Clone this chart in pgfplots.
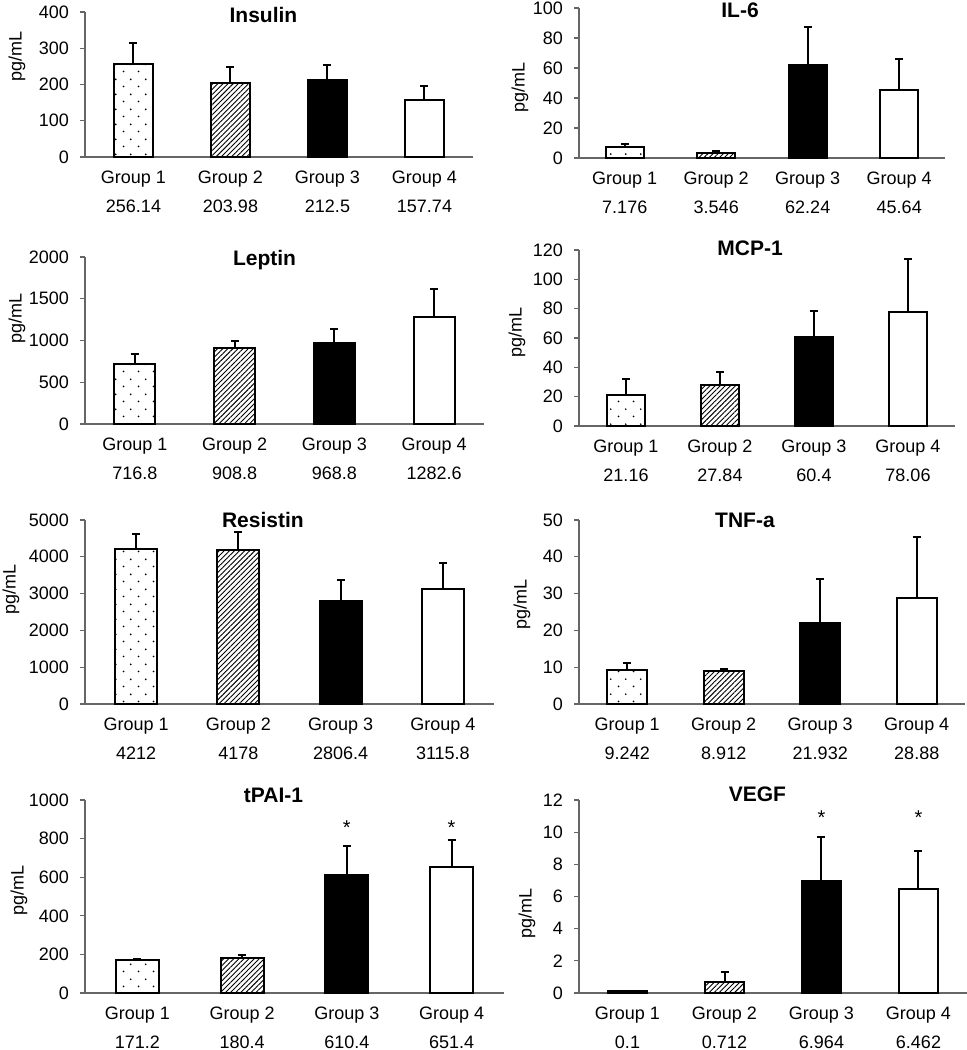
\documentclass[border=0pt]{standalone}
\usepackage{fontspec}
\setmainfont{Liberation Sans}
\usepackage{pgfplots}
\pgfplotsset{compat=1.18}
\usetikzlibrary{patterns.meta}

% sparse staggered dots for group 1
\tikzdeclarepattern{
  name=sparsedots,
  type=uncolored,
  bottom left={(0pt,0pt)},
  top right={(7.5pt,7.5pt)},
  tile size={(7.5pt,7.5pt)},
  code={
    \fill (1.875pt,1.875pt) circle (0.5pt);
    \fill (5.625pt,5.625pt) circle (0.5pt);
  }
}

\pgfplotsset{
  panel/.style={
    scale only axis,
    ybar, bar width=0.41, bar shift=0pt,
    xmin=0.5, xmax=4.5, ymin=0,
    axis x line*=bottom, axis y line*=left,
    axis line style={black!60, line width=0.6pt},
    xtick={1,2,3,4}, xtick style={draw=none},
    ytick style={black!60, line width=0.6pt},
    tick align=outside, major tick length=2.5pt,
    tick label style={font=\fontsize{9}{10}\selectfont},
    yticklabel style={xshift=-2pt},
    xticklabel style={align=center, font=\fontsize{9}{14.5}\selectfont, yshift=-1pt},
    /pgf/number format/assume math mode=true,
    /pgf/number format/1000 sep={},
    scaled y ticks=false,
    ylabel={pg/mL},
    every axis y label/.style={rotate=90, anchor=center},
    label style={font=\fontsize{9}{10}\selectfont},
    every axis title/.style={anchor=center, font=\bfseries\fontsize{10.5}{12}\selectfont},
    error bars/y dir=plus, error bars/y explicit,
    error bars/error bar style={black, line width=1pt},
    error bars/error mark options={rotate=90, black, line width=1pt, mark size=2pt},
  },
  g1/.style={draw=black, line width=1pt, bar shift=0pt, pattern=sparsedots, pattern color=black},
  g2/.style={draw=black, line width=1pt, bar shift=0pt, pattern={Lines[angle=45,distance=1.8pt,line width=0.45pt]}, pattern color=black},
  g3/.style={draw=black, line width=1pt, bar shift=0pt, fill=black},
  g4/.style={draw=black, line width=1pt, bar shift=0pt, fill=white},
}

\begin{document}
\begin{tikzpicture}
\path[use as bounding box] (0,0) rectangle (483.5pt,-525pt);

% ---------- left column ----------
\begin{axis}[panel, at={(42.5pt,-78.5pt)}, anchor=south west,
  width=194pt, height=72.5pt, ymax=400, ytick distance=100,
  ylabel style={at={([xshift=-34pt]axis description cs:0,0.69)}},
  title={Insulin}, title style={at={([yshift=-1.5pt]axis description cs:0.46,1)}},
  xticklabels={{Group 1\\256.14},{Group 2\\203.98},{Group 3\\212.5},{Group 4\\157.74}}]
\addplot[g1] coordinates {(1,256.14) +- (0,57)};
\addplot[g2] coordinates {(2,203.98) +- (0,43)};
\addplot[g3] coordinates {(3,212.5) +- (0,42)};
\addplot[g4] coordinates {(4,157.74) +- (0,37)};
\end{axis}

\begin{axis}[panel, at={(42.5pt,-212pt)}, anchor=south west,
  width=199.5pt, height=83.5pt, ymax=2000, ytick distance=500,
  ylabel style={at={([xshift=-34pt]axis description cs:0,0.63)}},
  title={Leptin}, title style={at={([yshift=-1.5pt]axis description cs:0.45,1)}},
  xticklabels={{Group 1\\716.8},{Group 2\\908.8},{Group 3\\968.8},{Group 4\\1282.6}}]
\addplot[g1] coordinates {(1,716.8) +- (0,123)};
\addplot[g2] coordinates {(2,908.8) +- (0,84)};
\addplot[g3] coordinates {(3,968.8) +- (0,164)};
\addplot[g4] coordinates {(4,1282.6) +- (0,332)};
\end{axis}

\begin{axis}[panel, at={(42.5pt,-352pt)}, anchor=south west,
  width=204.5pt, height=92pt, ymax=5000, ytick distance=1000,
  ylabel style={at={([xshift=-37pt]axis description cs:0,0.62)}},
  title={Resistin}, title style={at={([yshift=0pt]axis description cs:0.435,1)}},
  xticklabels={{Group 1\\4212},{Group 2\\4178},{Group 3\\2806.4},{Group 4\\3115.8}}]
\addplot[g1] coordinates {(1,4212) +- (0,400)};
\addplot[g2] coordinates {(2,4178) +- (0,488)};
\addplot[g3] coordinates {(3,2806.4) +- (0,563)};
\addplot[g4] coordinates {(4,3115.8) +- (0,724)};
\end{axis}

\begin{axis}[panel, at={(42.5pt,-496.5pt)}, anchor=south west,
  width=209.5pt, height=96.5pt, ymax=1000, ytick distance=200,
  ylabel style={at={([xshift=-33pt]axis description cs:0,0.53)}},
  title={tPAI-1}, title style={at={([yshift=2.5pt]axis description cs:0.45,1)}},
  xticklabel style={yshift=0pt},
  xticklabels={{Group 1\\171.2},{Group 2\\180.4},{Group 3\\610.4},{Group 4\\651.4}}]
\addplot[g1] coordinates {(1,171.2) +- (0,5)};
\addplot[g2] coordinates {(2,180.4) +- (0,17)};
\addplot[g3] coordinates {(3,610.4) +- (0,151)};
\addplot[g4] coordinates {(4,651.4) +- (0,141)};
\node[font=\fontsize{10}{11}\selectfont] at (axis cs:3,855) {*};
\node[font=\fontsize{10}{11}\selectfont] at (axis cs:4,855) {*};
\end{axis}

% ---------- right column ----------
\begin{axis}[panel, at={(289.5pt,-79pt)}, anchor=south west,
  width=183pt, height=75pt, ymax=100, ytick distance=20,
  ylabel style={at={([xshift=-29.5pt]axis description cs:0,0.47)}},
  title={IL-6}, title style={at={([yshift=-1pt]axis description cs:0.44,1)}},
  xticklabels={{Group 1\\7.176},{Group 2\\3.546},{Group 3\\62.24},{Group 4\\45.64}}]
\addplot[g1] coordinates {(1,7.176) +- (0,2.2)};
\addplot[g2] coordinates {(2,3.546) +- (0,0.8)};
\addplot[g3] coordinates {(3,62.24) +- (0,25.3)};
\addplot[g4] coordinates {(4,45.64) +- (0,20.4)};
\end{axis}

\begin{axis}[panel, at={(289.5pt,-213pt)}, anchor=south west,
  width=188pt, height=88pt, ymax=120, ytick distance=20,
  ylabel style={at={([xshift=-31pt]axis description cs:0,0.53)}},
  title={MCP-1}, title style={at={([yshift=1pt]axis description cs:0.455,1)}},
  xticklabels={{Group 1\\21.16},{Group 2\\27.84},{Group 3\\60.4},{Group 4\\78.06}}]
\addplot[g1] coordinates {(1,21.16) +- (0,10.6)};
\addplot[g2] coordinates {(2,27.84) +- (0,8.9)};
\addplot[g3] coordinates {(3,60.4) +- (0,17.8)};
\addplot[g4] coordinates {(4,78.06) +- (0,36)};
\end{axis}

\begin{axis}[panel, at={(289.5pt,-352pt)}, anchor=south west,
  width=193pt, height=92pt, ymax=50, ytick distance=10,
  ylabel style={at={([xshift=-28.5pt]axis description cs:0,0.54)}},
  title={TNF-a}, title style={at={([yshift=0pt]axis description cs:0.43,1)}},
  xticklabels={{Group 1\\9.242},{Group 2\\8.912},{Group 3\\21.932},{Group 4\\28.88}}]
\addplot[g1] coordinates {(1,9.242) +- (0,2.0)};
\addplot[g2] coordinates {(2,8.912) +- (0,0.5)};
\addplot[g3] coordinates {(3,21.932) +- (0,12)};
\addplot[g4] coordinates {(4,28.88) +- (0,16.4)};
\end{axis}

\begin{axis}[panel, at={(289.5pt,-496.5pt)}, anchor=south west,
  width=194pt, height=96.5pt, ymax=12, ytick distance=2,
  ylabel style={at={([xshift=-26pt]axis description cs:0,0.41)}},
  title={VEGF}, title style={at={([yshift=3pt]axis description cs:0.46,1)}},
  xticklabel style={yshift=0pt},
  xticklabels={{Group 1\\0.1},{Group 2\\0.712},{Group 3\\6.964},{Group 4\\6.462}}]
\addplot[g1] coordinates {(1,0.1) +- (0,0)};
\addplot[g2] coordinates {(2,0.712) +- (0,0.58)};
\addplot[g3] coordinates {(3,6.964) +- (0,2.76)};
\addplot[g4] coordinates {(4,6.462) +- (0,2.37)};
\node[font=\fontsize{10}{11}\selectfont] at (axis cs:3,10.9) {*};
\node[font=\fontsize{10}{11}\selectfont] at (axis cs:4,10.9) {*};
\end{axis}
\end{tikzpicture}
\end{document}
